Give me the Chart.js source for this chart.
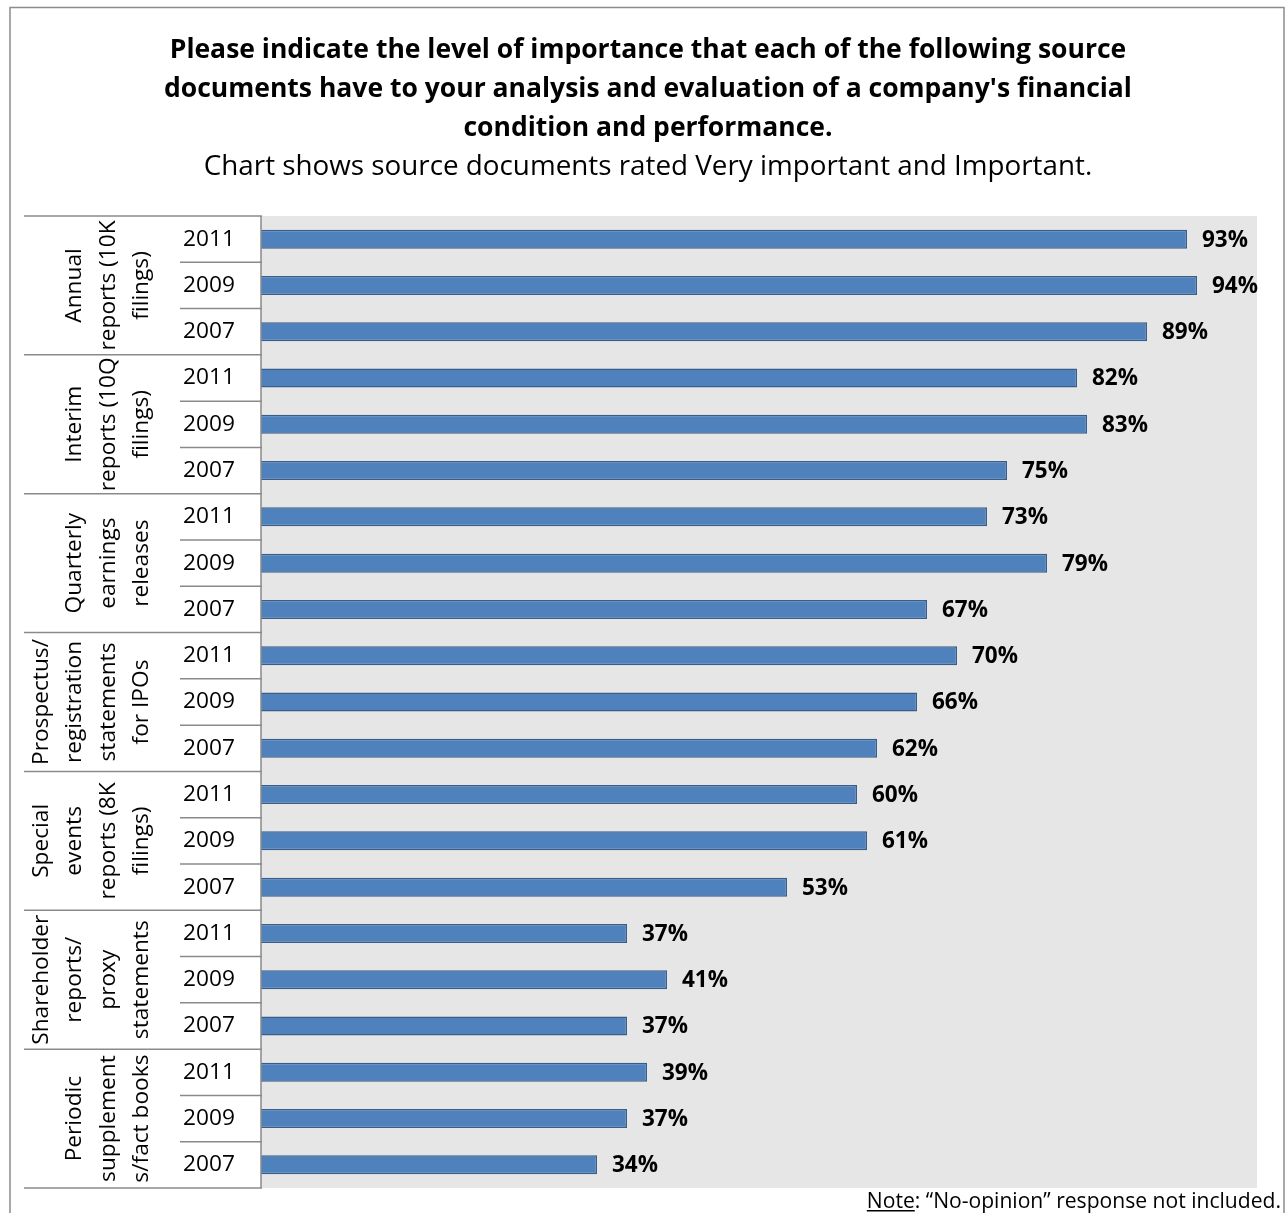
<!DOCTYPE html>
<html lang="en">
<head>
    <meta charset="utf-8">
    <title>Source documents importance</title>
    <script src="https://cdn.jsdelivr.net/npm/chart.js"></script>
    <style>
        body { margin: 0; background: #fff; }
        #wrap { width: 1286px; height: 1213px; }
    </style>
</head>
<body>
<div id="wrap"><canvas id="myChart" width="1286" height="1213"></canvas></div>
<script>
    // data
    const groups = [
        ["Annual", "reports (10K", "filings)"],
        ["Interim", "reports (10Q", "filings)"],
        ["Quarterly", "earnings", "releases"],
        ["Prospectus/", "registration", "statements", "for IPOs"],
        ["Special", "events", "reports (8K", "filings)"],
        ["Shareholder", "reports/", "proxy", "statements"],
        ["Periodic", "supplement", "s/fact books"]
    ]
    const years = ["2011", "2009", "2007"]
    const annual = [93, 94, 89]
    const interim = [82, 83, 75]
    const quarterly = [73, 79, 67]
    const prospectus = [70, 66, 62]
    const special = [60, 61, 53]
    const shareholder = [37, 41, 37]
    const periodic = [39, 37, 34]

    const titleLines = [
        "Please indicate the level of importance that each of the following source",
        "documents have to your analysis and evaluation of a company's financial",
        "condition and performance."
    ]
    const subTitle = "Chart shows source documents rated Very important and Important."
    const noteRest = ': \u201cNo-opinion\u201d response not included.'

    const series = [annual, interim, quarterly, prospectus, special, shareholder, periodic]
    let labels = []
    let values = []
    series.forEach(function (s) {
        s.forEach(function (v, i) {
            labels.push(years[i])
            values.push(v)
        })
    })

    const FONT = "Open Sans"
    const lineGrey = "#8a8a8a"

    // pick font sizes so text widths match the picture (Calibri isn't installed)
    let mctx = document.createElement('canvas').getContext('2d')
    function fitSize(text, weight, target) {
        mctx.font = weight + ' 100px "' + FONT + '"'
        return Math.round(1000 * target / mctx.measureText(text).width) / 10
    }
    const titleSize = fitSize(titleLines[0], 'bold', 957)
    const subSize = fitSize(subTitle, 'normal', 887)
    const yearSize = fitSize("2011", 'normal', 52)
    const valSize = fitSize("93%", 'bold', 46)
    const noteSize = fitSize('Note' + noteRest, 'normal', 414)

    // grey plot background + frame
    const backPlugin = {
        id: 'back',
        beforeDraw(chart) {
            let ctx = chart.ctx
            let a = chart.chartArea
            ctx.save()
            ctx.fillStyle = '#e6e6e6'
            ctx.fillRect(a.left, a.top, a.right - a.left, a.bottom - a.top)
            ctx.strokeStyle = '#8c8c8c'
            ctx.lineWidth = 1.5
            ctx.beginPath()
            ctx.moveTo(10, 1230)
            ctx.lineTo(10, 7.5)
            ctx.lineTo(1284, 7.5)
            ctx.lineTo(1284, 1230)
            ctx.stroke()
            ctx.restore()
        }
    }

    // table lines, group names, value labels, note
    const tablePlugin = {
        id: 'table',
        afterDraw(chart) {
            let ctx = chart.ctx
            let y = chart.scales.y
            let a = chart.chartArea
            let band = (y.getPixelForValue(1) - y.getPixelForValue(0))
            ctx.save()
            ctx.strokeStyle = lineGrey
            ctx.lineWidth = 1.5
            for (let i = 0; i <= labels.length; i++) {
                let py = y.getPixelForValue(i) - band / 2
                ctx.beginPath()
                ctx.moveTo(i % 3 == 0 ? 24 : 180, py)
                ctx.lineTo(a.left + 1, py)
                ctx.stroke()
            }
            ctx.beginPath()
            ctx.moveTo(a.left, a.top)
            ctx.lineTo(a.left, a.bottom)
            ctx.stroke()

            // rotated group names
            ctx.fillStyle = '#000'
            ctx.font = yearSize + 'px "' + FONT + '"'
            ctx.textAlign = 'center'
            ctx.textBaseline = 'middle'
            groups.forEach(function (g, gi) {
                let cy = y.getPixelForValue(gi * 3 + 1)
                g.forEach(function (line, li) {
                    let cx = 142 - (g.length - 1 - li) * 33.5
                    ctx.save()
                    ctx.translate(cx, cy)
                    ctx.rotate(-Math.PI / 2)
                    ctx.fillText(line, 0, 0)
                    ctx.restore()
                })
            })

            // value labels
            ctx.font = 'bold ' + valSize + 'px "' + FONT + '"'
            ctx.textAlign = 'left'
            chart.getDatasetMeta(0).data.forEach(function (bar, i) {
                ctx.fillText(values[i] + '%', bar.x + 15, bar.y + 1)
            })

            // note
            ctx.font = noteSize + 'px "' + FONT + '"'
            ctx.textAlign = 'right'
            ctx.textBaseline = 'alphabetic'
            let rw = ctx.measureText(noteRest).width
            ctx.fillText(noteRest, 1281, 1208)
            let nw = ctx.measureText('Note').width
            ctx.fillText('Note', 1281 - rw, 1208)
            ctx.fillRect(1281 - rw - nw, 1210, nw, 1.5)
            ctx.restore()
        }
    }

    let dataobj = {
        type: 'bar',
        data: {
            labels: labels,
            datasets: [{
                data: values,
                backgroundColor: '#4f81bd',
                borderColor: '#385d8a',
                borderWidth: 1.5,
                barPercentage: 0.41,
                categoryPercentage: 1
            }]
        },
        options: {
            indexAxis: 'y',
            responsive: false,
            animation: false,
            layout: {
                padding: { left: 10, right: 0, bottom: 25, top: 0 }
            },
            scales: {
                x: {
                    display: false,
                    min: 0.4,
                    max: 100
                },
                y: {
                    afterFit: function (scale) {
                        scale.width = 251
                        scale.paddingTop = 0
                        scale.paddingBottom = 0
                    },
                    grid: { display: false, drawTicks: false },
                    border: { display: false },
                    ticks: {
                        color: '#000',
                        padding: 26,
                        font: { family: FONT, size: yearSize }
                    }
                },
                yRight: {
                    type: 'category',
                    position: 'right',
                    afterFit: function (scale) {
                        scale.width = 29
                        scale.paddingTop = 0
                        scale.paddingBottom = 0
                    },
                    grid: { display: false, drawTicks: false },
                    border: { display: false },
                    ticks: { display: false }
                }
            },
            plugins: {
                legend: { display: false },
                tooltip: { enabled: false },
                title: {
                    display: true,
                    text: titleLines,
                    color: '#000',
                    font: { family: FONT, size: titleSize, weight: 'bold', lineHeight: 39 / titleSize },
                    padding: { top: 31, bottom: 0 }
                },
                subtitle: {
                    display: true,
                    text: subTitle,
                    color: '#000',
                    font: { family: FONT, size: subSize, lineHeight: 39 / subSize },
                    padding: { top: 0, bottom: 29 }
                }
            }
        },
        plugins: [backPlugin, tablePlugin]
    }
    var ctx = document.getElementById('myChart').getContext('2d');
    window.myLine = new Chart(ctx, dataobj);
</script>
</body>
</html>
